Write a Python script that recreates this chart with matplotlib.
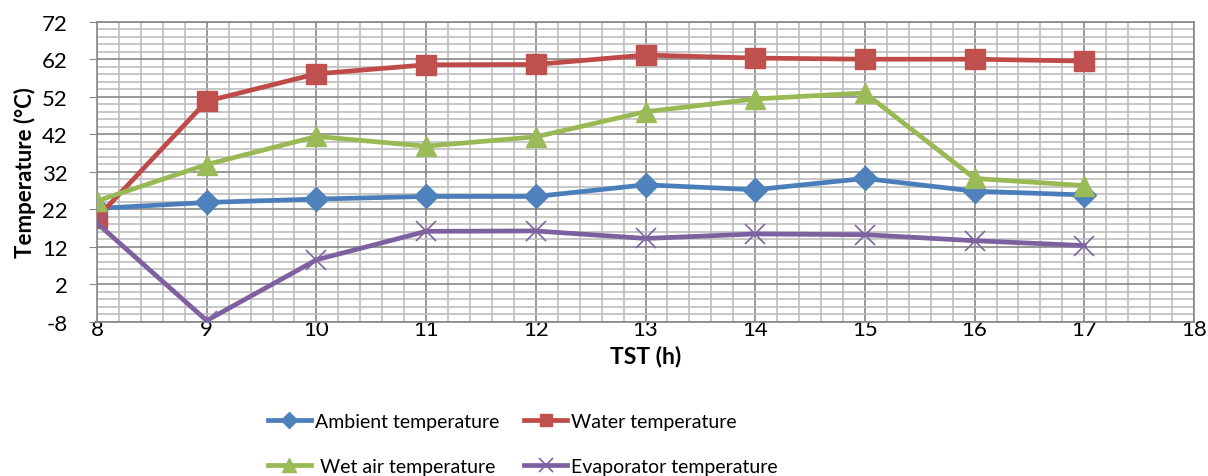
import matplotlib.pyplot as plt
import numpy as np
from matplotlib.ticker import MultipleLocator, FixedLocator

plt.rcParams['font.family'] = ['Lato', 'DejaVu Sans']
plt.rcParams['axes.unicode_minus'] = False

hours = [8, 9, 10, 11, 12, 13, 14, 15, 16, 17]
ambient = [22.2, 23.8, 24.7, 25.4, 25.4, 28.5, 27.2, 30.2, 26.8, 25.8]
water = [19.7, 50.8, 58.1, 60.5, 60.6, 63.1, 62.3, 62.0, 62.0, 61.5]
wet_air = [24.2, 33.9, 41.4, 38.8, 41.3, 48.0, 51.4, 53.0, 30.2, 28.3]
evaporator = [18.3, -7.7, 8.5, 16.1, 16.2, 14.2, 15.4, 15.2, 13.6, 12.3]

fig = plt.figure(figsize=(12.08, 4.77), dpi=100)
ax = fig.add_axes([97 / 1208, 1 - 322.7 / 477, (1194 - 97) / 1208, 300 / 477])

l_amb, = ax.plot(hours, ambient, color='#4A7EBB', lw=3.4, marker='D', ms=12,
                 mfc='#4F81BD', mec='#4F81BD', label='Ambient temperature', zorder=3)
l_wat, = ax.plot(hours, water, color='#BE4B48', lw=3.4, marker='s', ms=14,
                 mfc='#C0504D', mec='#C0504D', label='Water temperature', zorder=3)
l_wet, = ax.plot(hours, wet_air, color='#98B954', lw=3.4, marker='^', ms=15,
                 mfc='#9BBB59', mec='#9BBB59', label=' Wet air temperature', zorder=3)
l_eva, = ax.plot(hours, evaporator, color='#7D60A0', lw=3.4, marker='x', ms=15,
                 mew=1.2, mec='#8064A2', label='Evaporator temperature', zorder=3)

ax.set_xlim(8, 18)
ax.set_ylim(-8, 72)
ax.xaxis.set_major_locator(MultipleLocator(1))
ax.xaxis.set_minor_locator(MultipleLocator(0.2))
ax.yaxis.set_major_locator(FixedLocator(np.arange(-8, 73, 10)))
ax.yaxis.set_minor_locator(FixedLocator(np.arange(-8, 73, 2)))

ax.grid(which='minor', color='#bdbdbd', lw=1.2)
ax.grid(which='major', color='#888888', lw=1.2)
ax.set_axisbelow(True)
for s in ax.spines.values():
    s.set_color('#888888')
    s.set_linewidth(1.2)

ax.tick_params(axis='y', which='major', length=6, color='#888888', labelsize=16, pad=15)
ax.tick_params(axis='x', which='major', length=0, labelsize=16, pad=-2)
ax.tick_params(which='minor', length=0)

ax.set_xlabel('TST (h)', fontsize=16.5, fontweight='bold', labelpad=4)
ax.set_ylabel('Temperature (°C)', fontsize=16, fontweight='bold', labelpad=4)

# legend filled column by column: ambient / wet air, then water / evaporator
fig.legend([l_amb, l_wet, l_wat, l_eva],
           [l.get_label() for l in (l_amb, l_wet, l_wat, l_eva)],
           loc='upper left', bbox_to_anchor=(268 / 1208, 1 - 414 / 477), ncol=2,
           frameon=False, fontsize=14, handlelength=2.2, columnspacing=1.3,
           labelspacing=1.45, handletextpad=0.2, markerscale=0.65,
           borderpad=0, borderaxespad=0)

plt.savefig('out.png')
